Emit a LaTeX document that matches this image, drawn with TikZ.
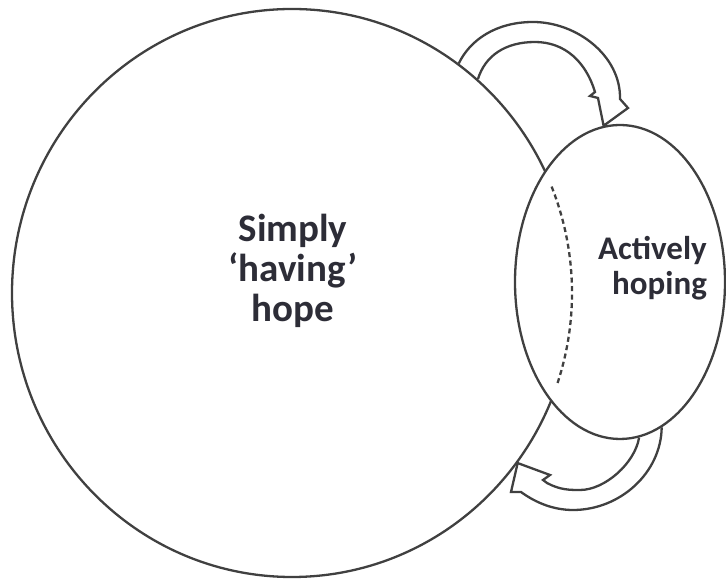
\documentclass[tikz,border=0pt]{standalone}
\usepackage{fontspec}
\setmainfont{Carlito}
\usetikzlibrary{shapes.geometric}
\definecolor{inkgray}{RGB}{64,64,64}
\definecolor{txtgray}{RGB}{45,45,55}

\begin{document}
\begin{tikzpicture}[x=1pt,y=1pt,line width=2.3pt,
  ring/.style={ellipse,draw=inkgray,inner sep=0pt},
  bend arrow/.style={draw=inkgray,line join=miter},
  hopetext/.style={text=txtgray,inner sep=0pt}]
  \useasboundingbox (0,0) rectangle (726,583);
  \node[ring,minimum width=560pt,minimum height=568pt] (have) at (292,290) {};
  \node[ring,fill=white,minimum width=210pt,minimum height=314pt] (active) at (620,301) {};
  \draw[inkgray,dash pattern=on 5pt off 3.5pt] ([shift={(22:280pt and 284pt)}]have.center) arc[start angle=22,end angle=-19,x radius=280pt,y radius=284pt];
  \node[hopetext,align=center,font=\bfseries\fontsize{39}{40}\selectfont] (havetext) at (293,312) {Simply\\‘having’\\hope};
  \node[hopetext,align=right,anchor=east,font=\bfseries\fontsize{33}{35}\selectfont] (activetext) at (708,315) {Actively\\hoping};
  \draw[bend arrow] (have.54) .. controls (470,543) and (496,561) .. (533,561) .. controls (577,561) and (621,527) .. (620,484) -- (628,475) -- (active.96) -- (598,485) -- (590,487) -- (595,491) .. controls (586,521) and (565,541) .. (535,541) .. controls (505,541) and (485,527) .. (have.49);
  \draw[bend arrow] (active.-74) .. controls (661,110) and (620,73) .. (573,73) .. controls (550,73) and (532,83) .. (521,91) -- (511,91) -- (have.-37) -- (550,108) -- (543,103) -- (547,100) .. controls (560,93) and (570,93) .. (580,93) .. controls (605,93) and (635,120) .. (active.-83);
\end{tikzpicture}
\end{document}
